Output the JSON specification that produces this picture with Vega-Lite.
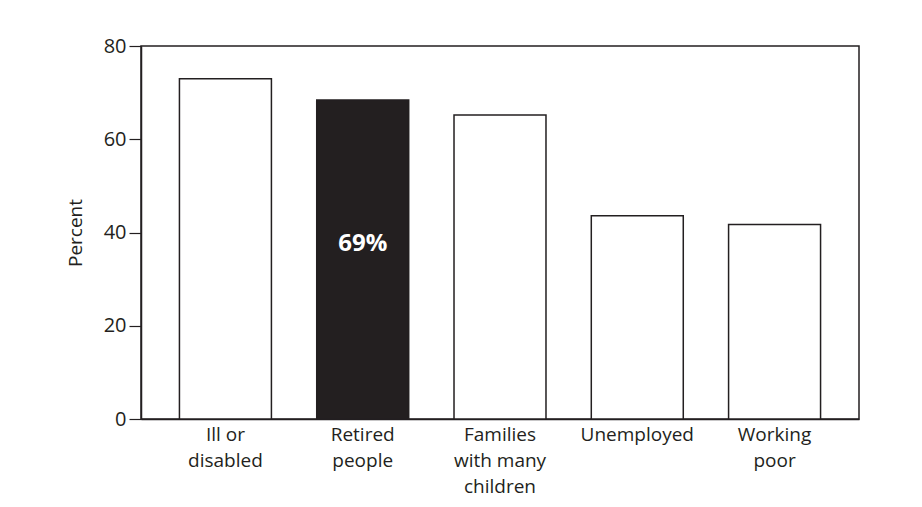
{
  "$schema": "https://vega.github.io/schema/vega-lite/v6.json",
  "width": 718,
  "height": 373,
  "autosize": {"type": "none"},
  "padding": {"left": 141, "top": 46, "right": 63, "bottom": 88},
  "background": "white",
  "config": {
    "font": "Open Sans",
    "view": {"stroke": "#231f20", "strokeWidth": 1.5},
    "axis": {"domainColor": "#231f20", "tickColor": "#231f20", "labelColor": "#231f20", "titleColor": "#231f20", "grid": false, "labelFont": "Open Sans", "titleFont": "Open Sans"}
  },
  "data": {
    "values": [
      {"group": "Ill or disabled", "percent": 73, "label": ""},
      {"group": "Retired people", "percent": 68.4, "label": "69%"},
      {"group": "Families with many children", "percent": 65.2, "label": ""},
      {"group": "Unemployed", "percent": 43.6, "label": ""},
      {"group": "Working poor", "percent": 41.7, "label": ""}
    ]
  },
  "encoding": {
    "x": {
      "field": "group",
      "type": "nominal",
      "sort": null,
      "scale": {"paddingInner": 0.33, "paddingOuter": 0.28},
      "axis": {
        "title": null,
        "ticks": false,
        "domain": true,
        "domainWidth": 1.5,
        "labelAngle": 0,
        "labelFontSize": 19,
        "labelLineHeight": 26,
        "labelPadding": 6,
        "labelBaseline": "top",
        "labelExpr": "datum.value == 'Ill or disabled' ? ['Ill or','disabled'] : datum.value == 'Retired people' ? ['Retired','people'] : datum.value == 'Families with many children' ? ['Families','with many','children'] : datum.value == 'Working poor' ? ['Working','poor'] : datum.value"
      }
    },
    "y": {
      "field": "percent",
      "type": "quantitative",
      "scale": {"domain": [0, 80]},
      "axis": {
        "title": "Percent",
        "values": [0, 20, 40, 60, 80],
        "tickSize": 12,
        "tickWidth": 1.2,
        "domainWidth": 1.5,
        "labelFontSize": 20,
        "labelPadding": 3,
        "titleFontSize": 19,
        "titleFontWeight": "normal",
        "titlePadding": 18
      }
    }
  },
  "layer": [
    {
      "mark": {"type": "bar", "stroke": "#231f20", "strokeWidth": 1.5},
      "encoding": {
        "fill": {
          "condition": {"test": "datum.group == 'Retired people'", "value": "#231f20"},
          "value": "white"
        }
      }
    },
    {
      "mark": {"type": "text", "color": "white", "fontWeight": "bold", "fontSize": 24, "baseline": "middle", "dy": 144},
      "encoding": {"text": {"field": "label"}}
    }
  ]
}
